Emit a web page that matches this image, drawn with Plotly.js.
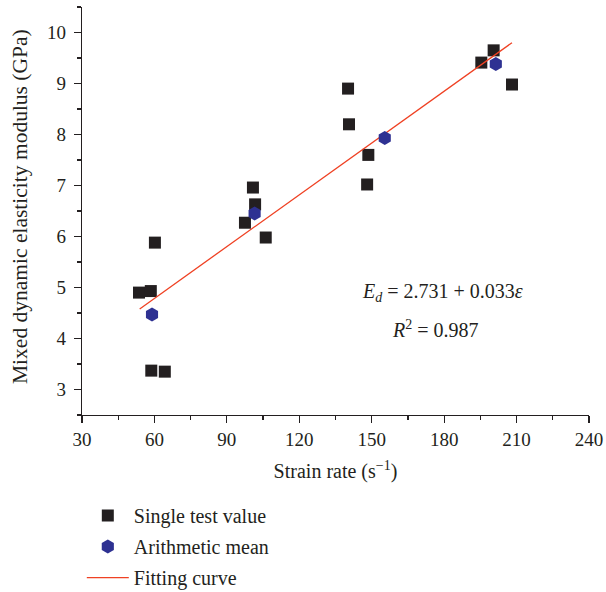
<!DOCTYPE html>
<html>
<head>
<meta charset="utf-8">
<script src="https://cdn.plot.ly/plotly-3.0.1.min.js"></script>
<style>
  html, body { margin: 0; padding: 0; background: #ffffff; }
  #chart { width: 606px; height: 592px; }
</style>
</head>
<body>
<div id="chart"></div>
<script>
// Single test values: strain rate (1/s) vs mixed dynamic elasticity modulus (GPa)
const singleX = [53.6, 58.5, 60.2, 58.7, 64.3, 97.5, 100.8, 101.7, 106.1, 140.2, 140.6, 148.6, 148.1, 195.4, 200.5, 208.1];
const singleY = [4.90, 4.93, 5.88, 3.37, 3.35, 6.27, 6.96, 6.63, 5.98, 8.90, 8.20, 7.60, 7.02, 9.41, 9.65, 8.98];

// Arithmetic mean of each strain-rate group
const meanX = [59.0, 101.5, 155.4, 201.4];
const meanY = [4.47, 6.45, 7.93, 9.38];

// Linear fitting curve endpoints
const fitX = [53.9, 208.1];
const fitY = [4.58, 9.80];

const ink = '#231f20';
const serif = 'Liberation Serif, Times New Roman, serif';
const fsTick = 19;
const fsText = 20;

const traces = [
  {
    x: singleX, y: singleY, type: 'scatter', mode: 'markers',
    name: 'Single test value', legendrank: 1, legendgroup: 'a',
    marker: { symbol: 'square', size: 12, color: ink, line: { width: 0 } }
  },
  {
    x: fitX, y: fitY, type: 'scatter', mode: 'lines',
    name: 'Fitting curve', legendrank: 3, legendgroup: 'c',
    line: { color: '#ef4123', width: 1.3 }
  },
  {
    x: meanX, y: meanY, type: 'scatter', mode: 'markers',
    name: 'Arithmetic mean', legendrank: 2, legendgroup: 'b',
    marker: { symbol: 'hexagon', size: 14, color: '#2e3192', line: { width: 0 } }
  }
];

const axisCommon = {
  showline: true, linecolor: ink, linewidth: 1.2,
  ticks: 'outside', ticklen: 7, tickwidth: 1.2, tickcolor: ink,
  showgrid: false, zeroline: false, mirror: false, automargin: false,
  tickfont: { family: serif, size: fsTick, color: ink }
};

const layout = {
  width: 606, height: 592,
  margin: { l: 82, r: 17, t: 7, b: 177, autoexpand: false },
  paper_bgcolor: '#ffffff', plot_bgcolor: '#ffffff',
  font: { family: serif, size: fsText, color: ink },
  xaxis: Object.assign({}, axisCommon, {
    range: [30, 240], tickmode: 'linear', tick0: 30, dtick: 30,
    minor: { dtick: 15, ticks: 'outside', ticklen: 4, tickwidth: 1.2, tickcolor: ink },
    title: { text: 'Strain rate (s<sup>\u22121</sup>)', font: { family: serif, size: fsText, color: ink }, standoff: 15 }
  }),
  yaxis: Object.assign({}, axisCommon, {
    range: [2.5, 10.5], tickmode: 'linear', tick0: 3, dtick: 1,
    ticklabelstandoff: 4,
    minor: { dtick: 0.5, ticks: 'outside', ticklen: 4, tickwidth: 1.2, tickcolor: ink }
  }),
  showlegend: true,
  legend: {
    xref: 'container', yref: 'container',
    x: 0.135, y: 0.162, xanchor: 'left', yanchor: 'top',
    orientation: 'v', itemwidth: 42, tracegroupgap: 2,
    bgcolor: 'rgba(0,0,0,0)', borderwidth: 0,
    font: { family: serif, size: fsText, color: ink }
  },
  annotations: [
    {
      // vertical y-axis title, set left of the tick labels
      xref: 'paper', yref: 'paper', x: 0, y: 0.5, xshift: -62, yshift: 4,
      xanchor: 'center', yanchor: 'middle', textangle: -90,
      text: 'Mixed dynamic elasticity modulus (GPa)',
      showarrow: false, font: { family: serif, size: 21.5, color: ink }
    },
    {
      xref: 'x', yref: 'y', x: 145, y: 4.90, xanchor: 'left', yanchor: 'middle',
      text: '<i>E</i><sub><i>d</i></sub> = 2.731 + 0.033<i>\u03b5</i>',
      showarrow: false, font: { family: serif, size: fsText, color: ink }
    },
    {
      xref: 'x', yref: 'y', x: 157.5, y: 4.18, xanchor: 'left', yanchor: 'middle',
      text: '<i>R</i><sup>2</sup> = 0.987',
      showarrow: false, font: { family: serif, size: fsText, color: ink }
    }
  ]
};

Plotly.newPlot('chart', traces, layout, { displayModeBar: false, staticPlot: true });
</script>
</body>
</html>
